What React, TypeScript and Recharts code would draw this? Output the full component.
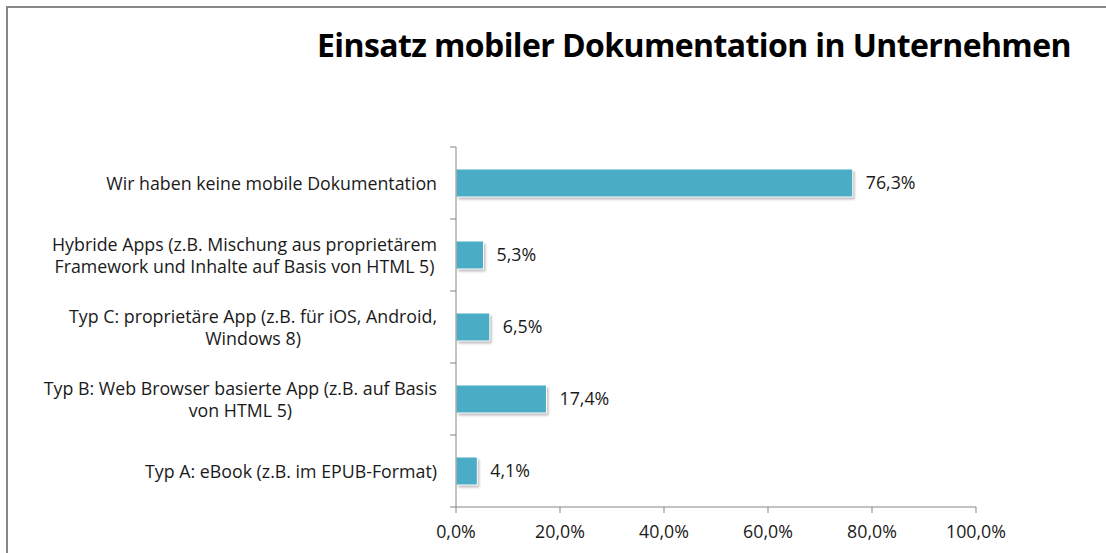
import React from "react";
import { BarChart, Bar, XAxis, YAxis, LabelList } from "recharts";

if (typeof document !== "undefined") {
  document.body.style.margin = "0";
}

const categories: string[][] = [
  ["Wir haben keine mobile Dokumentation"],
  ["Hybride Apps (z.B. Mischung aus proprietärem", "Framework und Inhalte auf Basis von HTML 5)"],
  ["Typ C: proprietäre App (z.B. für iOS, Android,", "Windows 8)"],
  ["Typ B: Web Browser basierte App (z.B. auf Basis", "von HTML 5)"],
  ["Typ A: eBook (z.B. im EPUB-Format)"],
];
const values: number[] = [76.3, 5.3, 6.5, 17.4, 4.1];
const xTicks: number[] = [0, 20, 40, 60, 80, 100];
const title = "Einsatz mobiler Dokumentation in Unternehmen";

const data = categories.map((lines, i) => ({ name: lines.join("\n"), value: values[i] }));

const W = 1106;
const H = 553;
const TOP = 147;
const AXIS_W = 456;
const RIGHT = 130;
const XAXIS_H = 46;
const PLOT_H = H - TOP - XAXIS_H;
const BAND = PLOT_H / categories.length;
const LABEL_RIGHT = 437;
const FONT = "'Open Sans', 'Noto Sans', sans-serif";
const FS = 17.8;
const GRAY = "#868686";
const BAR = "#4BACC6";

const fmt = (v: number) => v.toFixed(1).replace(".", ",") + "%";

let ctx: CanvasRenderingContext2D | null = null;
function measure(t: string): number {
  if (!ctx && typeof document !== "undefined") {
    ctx = document.createElement("canvas").getContext("2d");
  }
  if (!ctx) return t.length * FS * 0.5;
  ctx.font = `${FS}px 'Open Sans'`;
  return ctx.measureText(t).width;
}

const YTick = (props: any) => {
  const { y, payload, index } = props;
  const lines: string[] = String(payload.value).split("\n");
  const maxW = Math.max(...lines.map(measure));
  const cx = LABEL_RIGHT - maxW / 2;
  const lh = 22;
  const y0 = y - ((lines.length - 1) * lh) / 2;
  return (
    <g>
      <line x1={AXIS_W - 6} x2={AXIS_W} y1={y - BAND / 2} y2={y - BAND / 2} stroke={GRAY} strokeWidth={1} />
      {index === categories.length - 1 && (
        <line x1={AXIS_W - 6} x2={AXIS_W} y1={y + BAND / 2} y2={y + BAND / 2} stroke={GRAY} strokeWidth={1} />
      )}
      {lines.map((l, i) => (
        <text
          key={i}
          x={cx}
          y={y0 + i * lh}
          textAnchor="middle"
          dominantBaseline="central"
          fontFamily={FONT}
          fontSize={FS}
          fill="#1a1a1a"
        >
          {l}
        </text>
      ))}
    </g>
  );
};

const BarShape = (props: any) => {
  const { x, y, width, height } = props;
  if (!width || width <= 0) return null;
  return (
    <g>
      <rect x={x + 2} y={y + 2.5} width={width} height={height} fill="#000" opacity={0.25} filter="url(#blur)" />
      <rect x={x} y={y} width={width} height={height} fill={BAR} stroke="#ffffff" strokeWidth={1} />
    </g>
  );
};

export default function App() {
  return (
    <div style={{ position: "relative", width: W, height: H, background: "#fff", overflow: "hidden" }}>
      <div
        style={{
          position: "absolute",
          left: 6,
          top: 6,
          width: W,
          height: H,
          borderTop: `2px solid #878787`,
          borderLeft: `2px solid #878787`,
        }}
      />
      <div
        style={{
          position: "absolute",
          left: 0,
          width: W,
          top: 25,
          textAlign: "center",
          paddingLeft: 282,
          boxSizing: "border-box",
          fontFamily: FONT,
          fontWeight: 700,
          fontSize: 32,
          letterSpacing: -0.6,
          color: "#000",
          lineHeight: "40px",
          whiteSpace: "nowrap",
        }}
      >
        {title}
      </div>
      <div style={{ position: "absolute", left: 0, top: 0 }}>
        <BarChart
          width={W}
          height={H}
          data={data}
          layout="vertical"
          margin={{ top: TOP, right: RIGHT, bottom: 0, left: 0 }}
          barSize={28}
        >
          <defs>
            <filter id="blur" x="-10%" y="-30%" width="120%" height="160%">
              <feGaussianBlur stdDeviation="1.2" />
            </filter>
          </defs>
          <XAxis
            type="number"
            domain={[0, 100]}
            ticks={xTicks}
            tickFormatter={fmt}
            height={XAXIS_H}
            stroke={GRAY}
            tickSize={6}
            tickMargin={12}
            tick={{ fill: "#1a1a1a", fontFamily: FONT, fontSize: FS }}
            interval={0}
            allowDataOverflow
          />
          <YAxis
            type="category"
            dataKey="name"
            width={AXIS_W}
            stroke={GRAY}
            tickLine={false}
            tick={<YTick />}
            interval={0}
          />
          <Bar dataKey="value" shape={<BarShape />} isAnimationActive={false}>
            <LabelList
              dataKey="value"
              position="right"
              offset={13}
              formatter={(v: any) => fmt(Number(v))}
              style={{ fill: "#1a1a1a", fontFamily: FONT, fontSize: FS }}
            />
          </Bar>
        </BarChart>
      </div>
    </div>
  );
}
